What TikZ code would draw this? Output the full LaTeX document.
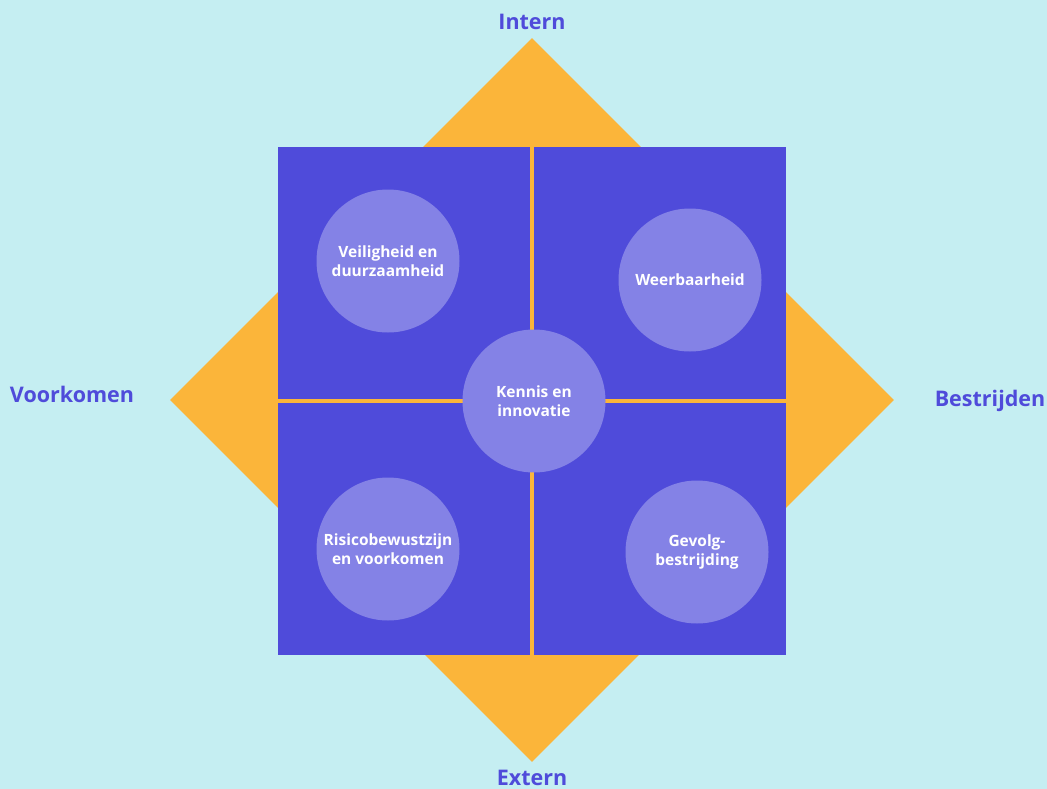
\documentclass[tikz,border=0pt]{standalone}
\usepackage{fontspec}
\setmainfont{Open Sans}
\usetikzlibrary{shapes.geometric}

\definecolor{bgcyan}{HTML}{C5EEF2}
\definecolor{axorange}{HTML}{FBB53A}
\definecolor{sqblue}{HTML}{4F4BDA}
\definecolor{circlilac}{HTML}{8482E6}

\begin{document}
\begin{tikzpicture}[x=1pt, y=-1pt]
        \tikzstyle{axis_diamond} = [shape = diamond,   fill = axorange, inner sep=0pt, minimum width=724pt, minimum height=724pt]
        \tikzstyle{field_square} = [shape = rectangle, fill = sqblue,   inner sep=0pt, minimum size=508pt]
        \tikzstyle{theme_circle} = [shape = circle,    fill = circlilac, inner sep=0pt, minimum size=143pt,
                                    text = white, align = center, font = \bfseries\fontsize{15.5}{18.5}\selectfont]
        \tikzstyle{axis_label}   = [text = sqblue, font = \bfseries\fontsize{21.5}{25}\selectfont]
        \tikzstyle{split_line}   = [draw = axorange, line width = 4pt]

        \fill[bgcyan] (0,0) rectangle (1047,789);
        \useasboundingbox (0,0) rectangle (1047,789);

        \node[axis_diamond] at (532, 400) (diam) {};
        \node[field_square] at (532, 401) (sq)   {};

        \draw[split_line] (sq.north) -- (sq.south);
        \draw[split_line] (sq.west)  -- (sq.east);

        \node[theme_circle] at (388, 261) (veilig)  {Veiligheid en\\duurzaamheid};
        \node[theme_circle] at (690, 280) (weer)    {Weerbaarheid};
        \node[theme_circle] at (534, 401) (kennis)  {Kennis en\\innovatie};
        \node[theme_circle] at (388, 549) (risico)  {Risicobewustzijn\\en voorkomen};
        \node[theme_circle] at (697, 552) (gevolg)  {Gevolg-\\bestrijding};

        \node[axis_label] at (532,  22) (intern)    {Intern};
        \node[axis_label] at (532, 778) (extern)    {Extern};
        \node[axis_label] at (72,  394) (voorkomen) {Voorkomen};
        \node[axis_label] at (990, 401) (bestrijden){Bestrijden};
      \end{tikzpicture}
\end{document}
